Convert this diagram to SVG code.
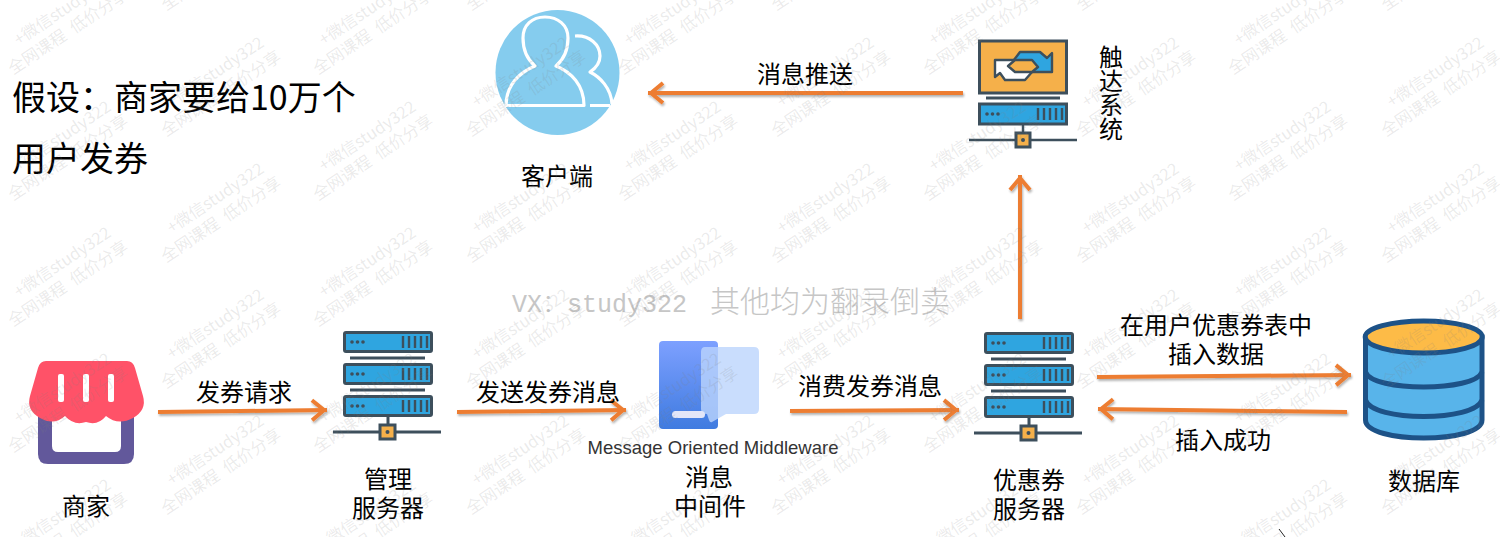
<svg xmlns="http://www.w3.org/2000/svg" width="1500" height="537" viewBox="0 0 1500 537">
<style>
text{font-family:"Noto Sans CJK SC","Liberation Sans",sans-serif;fill:#000}
.l{font-size:24px;text-anchor:middle}
.h{font-size:34px}
.wm{font-size:16.500px;fill:#808080;fill-opacity:.17}
.edge{fill:none;stroke:#ed7d31;stroke-width:4;marker-end:url(#ah);filter:url(#sh)}
.sv{fill:#2fa5e0;stroke:#3d4f5c;stroke-width:3}
.ln{fill:none;stroke:#3d4f5c;stroke-width:3}
.bx{fill:#f5b04a;stroke:#3d4f5c;stroke-width:3}
.dk{fill:#3d4f5c}
.ic{stroke:#3d4f5c;stroke-width:2.400;stroke-linejoin:round}
</style>
<defs>
<filter id="sh" x="0" y="0" width="1500" height="537" filterUnits="userSpaceOnUse"><feDropShadow dx="1" dy="2" stdDeviation="1.200" flood-color="#000" flood-opacity=".3"/></filter>
<marker id="ah" markerUnits="userSpaceOnUse" markerWidth="24" markerHeight="26" refX="21" refY="13" orient="auto"><path d="M6 3L18 13L6 23" fill="none" stroke="#ed7d31" stroke-width="4"/></marker>
<linearGradient id="mg" x1="0" y1="0" x2="0" y2="1"><stop offset="0" stop-color="#7da0ff"/><stop offset="1" stop-color="#3f7be0"/></linearGradient>
<g id="unit"><rect class="sv" x="1.500" y="1.500" width="87" height="19" rx="1.500"/><circle class="dk" cx="9" cy="11" r="1.800"/><circle class="dk" cx="14.500" cy="11" r="1.800"/><circle class="dk" cx="20" cy="11" r="1.800"/><path class="ln" d="M60 5V17M66 5V17M72 5V17M78 5V17M84 5V17" style="stroke-width:2.400"/></g>
<g id="srv"><use href="#unit"/><path class="ln" d="M7 27H82"/><use href="#unit" y="32"/><path class="ln" d="M7 59H82"/><use href="#unit" y="64"/><path class="ln" d="M45 85V94M-10 101H98"/><rect class="bx" x="37" y="94" width="15" height="14"/><circle class="dk" cx="44.500" cy="101" r="2"/></g>
<g id="wm" transform="rotate(-33.7)"><text class="wm" x="21" y="-21">+微信study322</text><text class="wm" x="0" y="0">全网课程</text><text class="wm" x="74" y="0">低价分享</text></g>
<g id="wc"><use href="#wm" y="-52"/><use href="#wm" y="75"/><use href="#wm" y="201"/><use href="#wm" y="327"/><use href="#wm" y="453"/><use href="#wm" y="579"/></g>
</defs>
<rect width="1500" height="537" fill="#fff"/>

<g id="note"><text class="h" x="12" y="110">假设：商家要给10万个</text><text class="h" x="12" y="171">用户发券</text></g>

<g id="merchant">
<path d="M38 405H134V454Q134 464 124 464H48Q38 464 38 454Z" fill="#62589b"/>
<path d="M52 410H121V446Q121 452 115 452H58Q52 452 52 446Z" fill="#fff"/>
<path d="M46 361H127Q133 361 135 368L143 396Q147 410 133 418Q118 426 106 416Q98 426 86 422Q74 426 65 416Q54 426 40 418Q26 410 30 396L38 368Q40 361 46 361Z" fill="#ff5268"/>
<g fill="#fff"><rect x="58" y="374" width="6" height="28" rx="2"/><rect x="83" y="374" width="6" height="28" rx="2"/><rect x="108" y="374" width="6" height="28" rx="2"/></g>
<text class="l" x="86" y="515">商家</text>
</g>

<g id="mgmt-server"><use href="#srv" x="343" y="331"/><text class="l" x="388" y="488">管理<tspan x="388" dy="29">服务器</tspan></text></g>

<g id="mq">
<rect x="659" y="341" width="59" height="88" rx="4" fill="url(#mg)"/>
<path d="M705 347H754Q759 347 759 352V409Q759 414 754 414H726L712 422Q710 423 709 420L707 414Q701 414 701 409V352Q701 347 705 347Z" fill="#bcd5fd" fill-opacity=".8"/>
<rect x="672" y="411" width="33" height="7" rx="3.500" fill="#e3e6f8"/>
<text x="713" y="454" text-anchor="middle" style="font-family:'Liberation Sans',sans-serif;font-size:18.500px;fill:#333">Message Oriented Middleware</text>
<text class="l" x="709" y="486">消息<tspan x="710" dy="29">中间件</tspan></text>
</g>

<g id="coupon-server"><use href="#srv" x="984" y="332"/><text class="l" x="1029" y="489">优惠券<tspan x="1029" dy="29">服务器</tspan></text></g>

<g id="database" stroke="#1d5287" stroke-width="5">
<path fill="#58b4ea" d="M1365.500 337V420C1365.500 444 1482 444 1482 420V337Z"/>
<path fill="none" d="M1365.500 372C1372 392 1475 392 1482 372M1365.500 400C1372 422 1475 422 1482 400"/>
<ellipse cx="1423.700" cy="337" rx="58.500" ry="16" fill="#fdbb47"/>
<text class="l" x="1424" y="490" stroke="none">数据库</text>
</g>

<g id="client">
<ellipse cx="557.500" cy="72.500" rx="62" ry="62.500" fill="#85ccee"/>
<g fill="none" stroke="#fff" stroke-width="3.200" stroke-linejoin="round">
<path d="M575 36C590 35 600 45 600 56C600 63 596 68 590 72C600 77 611 88 612 104M590 105.500H610"/>
<path d="M506 105.500H584C584 85 571 72 556 66C563 60 568 50 568 38C568 25 558 17 545 17C532 17 523 25 523 38C523 50 528 60 535 66C520 72 506 85 506 105.500Z"/>
</g>
<text class="l" x="557" y="185">客户端</text>
</g>

<g id="touch-system">
<rect x="979.500" y="41" width="87" height="52" fill="#f5b04a" stroke="#3d4f5c" stroke-width="3"/>
<path class="ic" d="M1010 65L1020 52H1040L1047 58L1052 53V72L1033 72Z" fill="#2fa5e0"/>
<path class="ic" d="M995 60V77L1000 73L1005 80H1025L1032 72L1015 60Z" fill="#fff"/>
<path class="ic" d="M1008 66L1015 60H1032L1038 67L1032 72H1015Z" fill="#f5b04a"/>
<path class="ln" d="M986 98H1060"/>
<rect x="979.500" y="104" width="87" height="20" class="sv"/>
<g class="dk"><circle cx="987" cy="114" r="1.800"/><circle cx="992.500" cy="114" r="1.800"/><circle cx="998" cy="114" r="1.800"/></g>
<path class="ln" d="M1038 108V120M1044 108V120M1050 108V120M1056 108V120M1062 108V120M1023 125V133M969 140H1077" style="stroke-width:2.400"/>
<rect class="bx" x="1016" y="133" width="14" height="14"/><circle class="dk" cx="1023" cy="140" r="2"/>
<text x="1111" y="45" style="font-size:24px;writing-mode:vertical-rl">触达系统</text>
</g>

<g id="connectors">
<path class="edge" d="M158 412L327 410"/>
<path class="edge" d="M457 412L626 410"/>
<path class="edge" d="M790 411L959 410"/>
<path class="edge" d="M1097 377L1351 375"/>
<path class="edge" d="M1347 412L1098 409"/>
<path class="edge" d="M963 93L648 93"/>
<path class="edge" d="M1020 319L1020 175"/>
</g>

<g id="labels">
<text class="l" x="244" y="401">发券请求</text>
<text class="l" x="548" y="401">发送发券消息</text>
<text class="l" x="870" y="395">消费发券消息</text>
<text class="l" x="1216" y="334">在用户优惠券表中<tspan x="1216" dy="29">插入数据</tspan></text>
<text class="l" x="1223" y="449">插入成功</text>
<text class="l" x="805" y="83">消息推送</text>
</g>

<text x="512" y="312" style="font-size:30px;font-weight:300;fill:#c6c6c6;font-family:'Noto Sans CJK SC',serif"><tspan style="font-family:'Liberation Mono','Noto Sans CJK SC',monospace;font-size:25px">VX：study322</tspan><tspan x="710">其他均为翻录倒卖</tspan></text>
<path d="M1279 529L1285 537" stroke="#222" stroke-width="1" fill="none"/>

<g id="watermark">
<use href="#wc" x="-140" y="-64"/><use href="#wc" x="13"/><use href="#wc" x="166" y="-64"/><use href="#wc" x="318"/><use href="#wc" x="471" y="-64"/><use href="#wc" x="623"/><use href="#wc" x="776" y="-64"/><use href="#wc" x="928"/><use href="#wc" x="1081" y="-64"/><use href="#wc" x="1233"/><use href="#wc" x="1386" y="-64"/>
</g>
</svg>
